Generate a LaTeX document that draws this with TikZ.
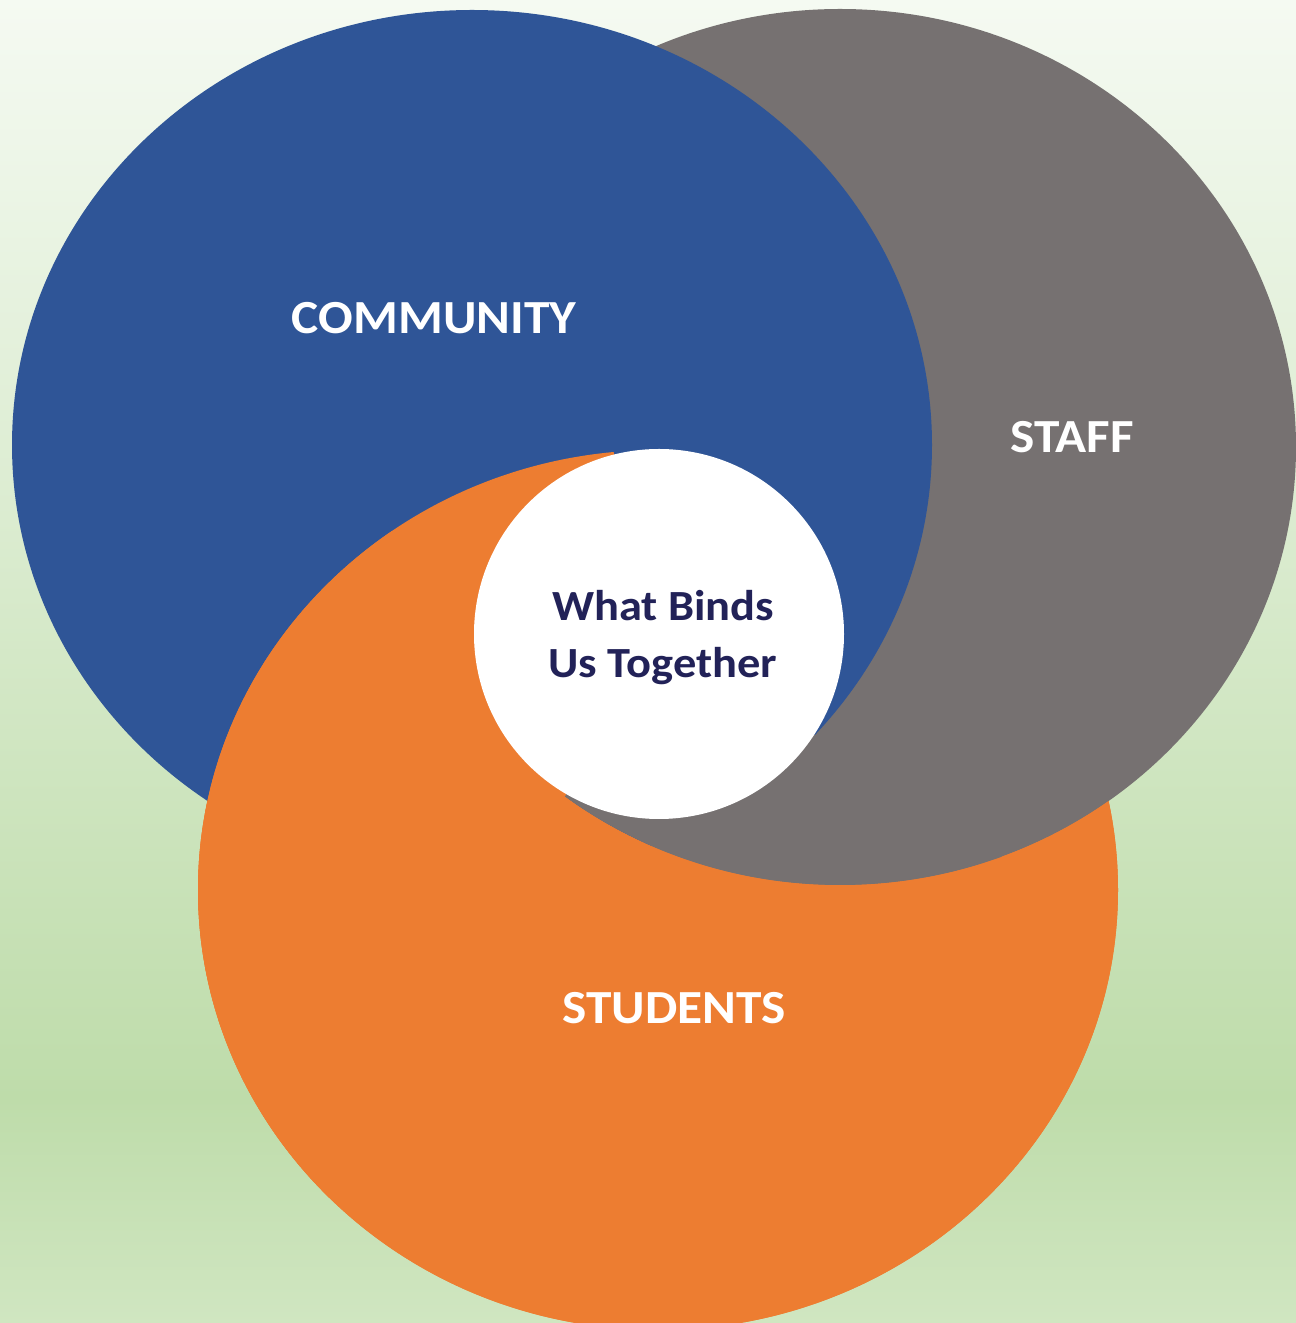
\documentclass[tikz,border=0pt]{standalone}
\usepackage{fontspec}
\setmainfont{Carlito}[FakeStretch=1.08]
\usetikzlibrary{positioning}

\definecolor{commblue}{RGB}{47,85,151}
\definecolor{staffgrey}{RGB}{118,113,113}
\definecolor{studorange}{RGB}{237,125,49}
\definecolor{inkblue}{RGB}{34,34,88}
\definecolor{bgtop}{RGB}{245,250,242}
\definecolor{bgmid}{RGB}{190,220,170}
\definecolor{bgbot}{RGB}{208,230,193}
% the middle band 25bp--75bp is what fills the path
\pgfdeclareverticalshading{meadow}{100bp}{color(0bp)=(bgbot); color(25bp)=(bgbot);
  color(33.5bp)=(bgmid); color(75bp)=(bgtop); color(100bp)=(bgtop)}

% the three groups
\newcommand\commset{(472,878) ellipse [x radius=460, y radius=435]}
\newcommand\staffset{(840,876) ellipse [x radius=456, y radius=438]}
\newcommand\studset{(658,433) ellipse [x radius=460, y radius=440]}

\begin{document}
\begin{tikzpicture}[x=1pt, y=1pt,
  tag/.style={text=white, font=\bfseries\fontsize{47.5}{56}\selectfont},
  core/.style={circle, fill=white, minimum size=370pt, inner sep=0pt},
  motto/.style={align=center, text=inkblue, font=\bfseries\fontsize{43}{57}\selectfont}]

\useasboundingbox (0,0) rectangle (1296,1323);
\fill[shading=meadow] (0,0) rectangle (1296,1323);
\coordinate (hub) at (659,689);

\begin{scope}
\clip (0,0) rectangle (1296,1323);
\fill[studorange] \studset;
\fill[staffgrey] \staffset;
\fill[commblue] \commset;
% students over community on the upper left
\begin{scope}
  \clip (hub) -- ++(104:3000) arc[start angle=104, end angle=240, radius=3000] -- cycle;
  \fill[studorange] \studset;
\end{scope}
% students over community wherever staff is not
\begin{scope}[even odd rule]
  \clip (-20,-20) rectangle (1316,1343) \staffset;
  \fill[studorange] \studset;
\end{scope}
% staff over community at the bottom
\begin{scope}
  \clip (hub) -- ++(240:3000) arc[start angle=240, end angle=327, radius=3000] -- cycle;
  \fill[staffgrey] \staffset;
\end{scope}
\end{scope}

\node[core] (bind) at (hub) {};
\node[motto] (motto) at ([xshift=4pt, yshift=-4pt]bind.center) {What Binds\\Us Together};

\node[tag] (community) at (434,1005) {COMMUNITY};
\node[tag] (staff) at (1072,886) {STAFF};
\node[tag] (students) at (674,315) {STUDENTS};
\end{tikzpicture}
\end{document}
